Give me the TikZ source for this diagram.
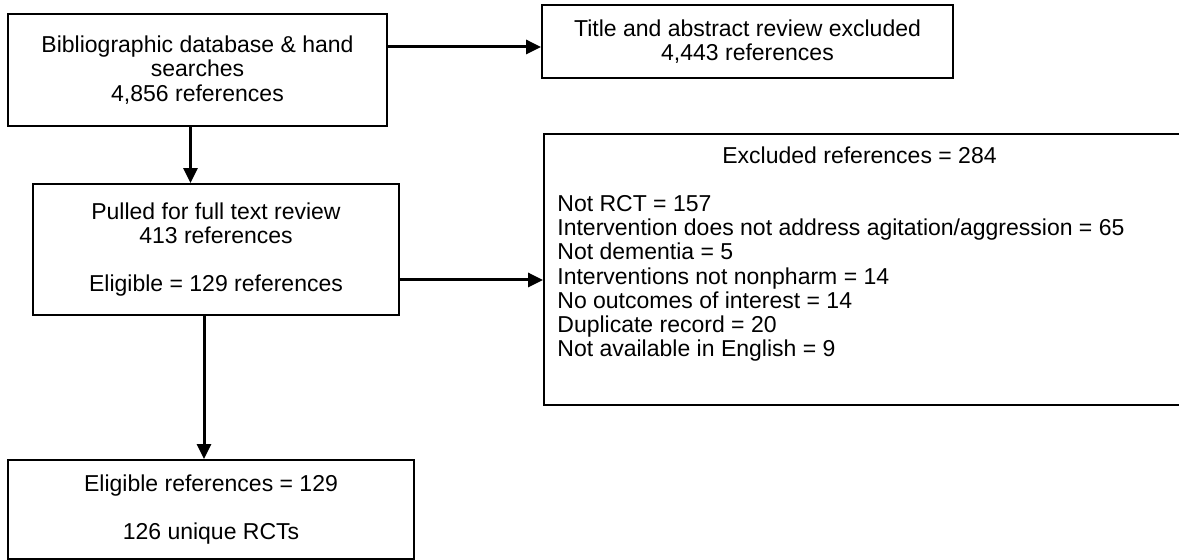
\documentclass[tikz,border=0pt]{standalone}
\usepackage{fontspec}
\setmainfont{Liberation Sans}
\usetikzlibrary{arrows.meta,positioning}

\begin{document}
\begin{tikzpicture}[
    x=0.5pt, y=-0.5pt,
    box/.style={draw, line width=0.9pt, inner sep=0pt, align=center, font=\fontsize{11.5}{12.1}\selectfont},
    arr/.style={-{Triangle[length=7.5pt, width=7pt]}, line width=1.5pt},
    lbl/.style={inner sep=0pt, align=left, font=\fontsize{11.5}{12.1}\selectfont}
]
\useasboundingbox (0,0) rectangle (1179,560);
\node[box, minimum width=189.5pt, minimum height=56pt] (bib) at (197.5,70) {Bibliographic database \& hand\\searches\\4,856 references};
\node[box, minimum width=205.5pt, minimum height=36.5pt] (title) at (747.5,41.5) {Title and abstract review excluded\\4,443 references};
\node[box, minimum width=183pt, minimum height=65.5pt] (pulled) at (216,249.5) {Pulled for full text review\\413 references\\[12.1pt]Eligible = 129 references};
\node[box, minimum width=320.5pt, minimum height=135.5pt] (excl) at (864.5,269.5) {};
\node[lbl, anchor=north west] (excltext) at (557,146) {\hspace*{82.5pt}Excluded references = 284\\[12.1pt]
Not RCT = 157\\
Intervention does not address agitation/aggression = 65\\
Not dementia = 5\\
Interventions not nonpharm = 14\\
No outcomes of interest = 14\\
Duplicate record = 20\\
Not available in English = 9};
\node[box, minimum width=203pt, minimum height=49.5pt] (elig) at (211,509.5) {Eligible references = 129\\[12.1pt]126 unique RCTs};

\draw[arr] ([yshift=11.5pt]bib.east) -- ([yshift=11.5pt]bib.east -| title.west);
\draw[arr] ([xshift=-3.5pt]bib.south) -- ([xshift=-3.5pt]bib.south |- pulled.north);
\draw[arr] ([yshift=-15.25pt]pulled.east) -- ([yshift=-15.25pt]pulled.east -| excl.west);
\draw[arr] ([xshift=-6pt]pulled.south) -- ([xshift=-6pt]pulled.south |- elig.north);
\end{tikzpicture}
\end{document}
